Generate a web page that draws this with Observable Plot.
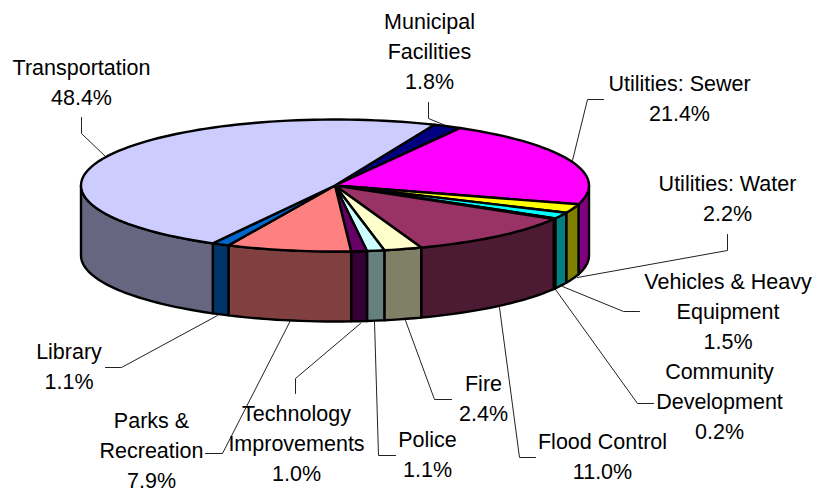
<!DOCTYPE html>
<html>
<head>
<meta charset="utf-8">
<script src="https://cdn.jsdelivr.net/npm/d3@7"></script>
<script src="https://cdn.jsdelivr.net/npm/@observablehq/plot@0.6"></script>
<style>html,body{margin:0;padding:0;background:#fff}svg{display:block}</style>
</head>
<body>
<div id="chart"></div>
<script>
// Data, clockwise from the top edge
const categories = ["Municipal\nFacilities","Utilities: Sewer","Utilities: Water","Vehicles & Heavy\nEquipment","Community\nDevelopment","Flood Control","Fire","Police","Technology\nImprovements","Parks &\nRecreation","Library","Transportation"];
const values = [1.8,21.4,2.2,1.5,0.2,11.0,2.4,1.1,1.0,7.9,1.1,48.4];
const topColors = ["#000080","#FF00FF","#FFFF00","#00FFFF","#800000","#993366","#FFFFCC","#CCFFFF","#660066","#FF8080","#0066CC","#CCCCFF"];
const sideColors = ["#000040","#800080","#808000","#008080","#000000","#4D1A33","#808066","#668080","#330033","#804040","#003366","#666680"];

// Layout of the labels: centre x, baseline of the last line
const labelX = [429,679,727,727.5,719,602,483,427,296,151,68.5,81];
const labelY = [88,120,220,348,438,478,420,476,480,487,388,104];
// Layout of the leader lines
const leaderPaths = [
  [[428,102],[428,118],[445,125]],
  [[603,99],[587,99],[572,160]],
  [[727,234],[727,250],[577,277]],
  [[639,311],[623,311],[562,286]],
  [[653,403],[637,403],[555,289]],
  [[535,457],[519,457],[499,307]],
  [[451,399],[434,399],[405,320]],
  [[395,455],[378,455],[374,321]],
  [[295,393],[295,378],[360,323]],
  [[205,453],[222,453],[290,320]],
  [[105,367],[121,367],[217,315]],
  [[81,117],[81,133],[106,157]]
];

// Pie projection
const cx = 334.5, cy = 185, rx = 254, ry = 66, depth = 70, startDeg = 23;
const rad = d => d * Math.PI / 180;
const px = t => cx + rx * Math.sin(rad(t));
const py = t => cy - ry * Math.cos(rad(t));
const arc = (a, b) => {
  const n = Math.max(1, Math.ceil((b - a) / 2));
  return d3.range(n + 1).map(i => a + (b - a) * i / n);
};

let cum = 0;
const slices = values.map((v, i) => {
  const a = startDeg + cum * 3.6;
  cum += v;
  return {i, a, b: startDeg + cum * 3.6};
});

const sides = [], tops = [], leaders = [];
for (const s of slices) {
  const a = Math.max(s.a, 90), b = Math.min(s.b, 270);
  if (b > a) {
    const ts = arc(a, b);
    ts.forEach(t => sides.push({id: s.i, color: sideColors[s.i], x: px(t), y: py(t)}));
    ts.slice().reverse().forEach(t => sides.push({id: s.i, color: sideColors[s.i], x: px(t), y: py(t) + depth}));
  }
  tops.push({id: s.i, color: topColors[s.i], x: cx, y: cy});
  arc(s.a, s.b).forEach(t => tops.push({id: s.i, color: topColors[s.i], x: px(t), y: py(t)}));
}
leaderPaths.forEach((p, i) => p.forEach(([x, y]) => leaders.push({id: i, x, y})));

const labels = categories.map((c, i) => ({
  text: `${c}\n${values[i].toFixed(1)}%`,
  x: labelX[i],
  y: labelY[i]
}));

const facet = {stroke: "#000", strokeWidth: 2.4, strokeLinejoin: "round", curve: "linear-closed"};

const plot = Plot.plot({
  width: 817, height: 492,
  marginTop: 0, marginRight: 0, marginBottom: 0, marginLeft: 0,
  x: {domain: [0, 817], range: [0, 817], axis: null},
  y: {domain: [0, 492], range: [0, 492], axis: null},
  color: {type: "identity"},
  style: {background: "#fff", fontFamily: "'Liberation Sans', Arial, sans-serif"},
  marks: [
    Plot.line(leaders, {x: "x", y: "y", z: "id", stroke: "#222", strokeWidth: 1}),
    Plot.line(sides, {x: "x", y: "y", z: "id", fill: "color", ...facet}),
    Plot.line(tops, {x: "x", y: "y", z: "id", fill: "color", ...facet}),
    Plot.text(labels, {x: "x", y: "y", text: "text", lineAnchor: "bottom", lineHeight: 1.395, fontSize: 21.5, fill: "#000", textAnchor: "middle"})
  ]
});
document.getElementById("chart").append(plot);
</script>
</body>
</html>
